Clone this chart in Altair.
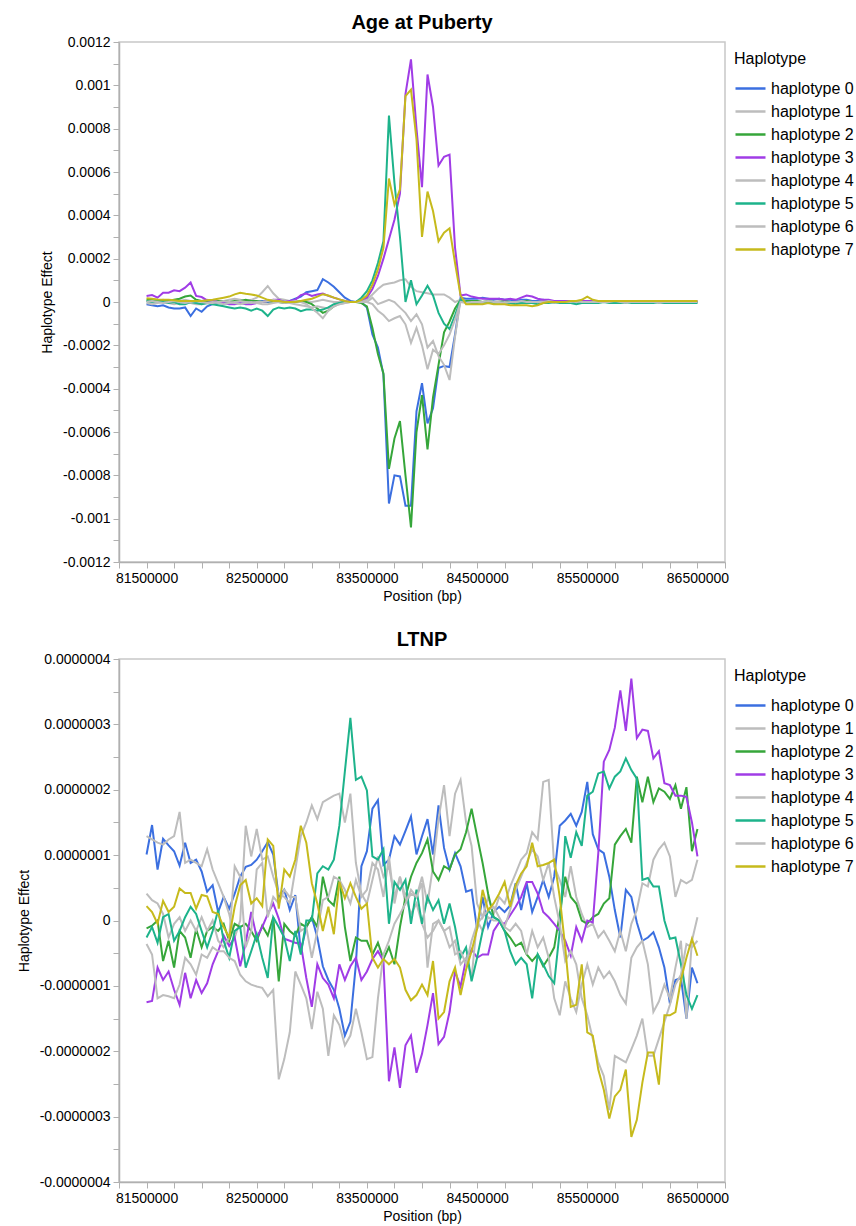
import altair as alt
import pandas as pd

# ---------------- data ----------------
positions = list(range(81500000, 86500001, 50000))  # 101 marker positions (bp)
haplotypes = ["haplotype 0", "haplotype 1", "haplotype 2", "haplotype 3",
              "haplotype 4", "haplotype 5", "haplotype 6", "haplotype 7"]
colors = ["#3b6fe0", "#bdbdbd", "#36a63a", "#a03ce6",
          "#bdbdbd", "#1db38b", "#bdbdbd", "#c6ba1c"]

# Age at Puberty, values in units of 1e-4
pub_h0 = [-0.1, -0.15, -0.2, -0.15, -0.25, -0.3, -0.3, -0.25, -0.65, -0.3,
          -0.45, -0.2, -0.1, -0.05, 0.0, -0.05, 0.0, 0.05, 0.0, -0.05,
          0.0, 0.05, 0.0, 0.05, 0.0, 0.05, 0.05, 0.15, 0.25, 0.45,
          0.5, 0.55, 1.05, 0.9, 0.7, 0.45, 0.2, 0.05, 0.0, 0.0,
          -0.25, -1.5, -2.1, -3.35, -9.3, -8.0, -8.05, -9.4, -9.4, -5.05,
          -3.75, -5.6, -4.9, -3.05, -2.95, -3.0, -1.5, 0.2, 0.15, 0.15,
          0.15, 0.2, 0.15, 0.1, 0.15, 0.1, 0.1, 0.05, 0.1, 0.1,
          0.05, 0.05, 0.1, 0.05, 0.0, 0.05, 0.0, 0.0, 0.05, 0.0,
          0.0, 0.05, 0.0, 0.0, 0.05, 0.0, 0.0, 0.0, 0.05, 0.0,
          0.0, 0.0, 0.05, 0.0, 0.0, 0.0, 0.05, 0.0, 0.0, 0.0, 0.0]
pub_h1 = [0.05, 0.0, 0.05, 0.1, 0.05, 0.0, 0.05, 0.1, 0.05, 0.0,
          0.05, 0.1, 0.05, 0.0, 0.05, 0.1, 0.15, 0.1, 0.05, 0.1,
          0.2, 0.45, 0.74, 0.4, 0.15, 0.1, 0.05, 0.05, 0.0, 0.05,
          0.0, 0.05, 0.1, 0.05, 0.0, 0.0, 0.0, 0.0, 0.0, 0.05,
          0.1, 0.35, 0.6, 0.8, 0.85, 0.9, 1.0, 1.05, 0.7, 0.5,
          0.45, 0.4, 0.35, 0.35, 0.35, 0.2, 0.0, 0.1, 0.05, 0.0,
          0.05, 0.0, -0.05, 0.0, 0.05, 0.0, 0.0, -0.05, 0.0, 0.05,
          0.0, 0.0, 0.05, 0.0, -0.05, 0.0, 0.0, 0.05, 0.0, 0.0,
          -0.05, 0.0, 0.0, 0.05, 0.0, 0.0, -0.05, 0.0, 0.0, 0.05,
          0.0, 0.0, 0.0, -0.05, 0.0, 0.0, 0.05, 0.0, 0.0, 0.0, 0.0]
pub_h2 = [0.1, 0.1, 0.08, 0.05, 0.05, 0.1, 0.15, 0.25, 0.3, 0.1,
          0.05, 0.05, 0.0, 0.05, 0.05, 0.0, 0.05, 0.05, 0.1, 0.05,
          0.05, 0.0, 0.05, 0.0, 0.0, -0.05, 0.0, 0.0, 0.05, 0.0,
          -0.1, -0.3, -0.5, -0.4, -0.2, -0.05, 0.0, 0.0, 0.0, -0.05,
          -0.2, -1.2, -2.4, -3.3, -7.7, -6.3, -5.5, -8.0, -10.4, -6.0,
          -4.3, -6.8, -4.4, -2.9, -1.4, -0.9, -0.3, 0.1, 0.05, 0.05,
          0.05, 0.0, 0.05, 0.0, 0.0, 0.05, 0.0, 0.0, 0.0, 0.05,
          0.0, 0.0, 0.0, 0.05, 0.0, 0.0, 0.0, 0.0, 0.0, 0.0,
          0.0, 0.0, 0.0, 0.0, 0.0, 0.0, 0.0, 0.0, 0.0, 0.0,
          0.0, 0.0, 0.0, 0.0, 0.0, 0.0, 0.0, 0.0, 0.0, 0.0, 0.0]
pub_h3 = [0.28, 0.32, 0.2, 0.43, 0.43, 0.54, 0.5, 0.66, 0.9, 0.28,
          0.23, 0.08, 0.05, 0.0, -0.05, -0.1, -0.1, -0.05, -0.1, -0.1,
          -0.05, 0.0, 0.05, 0.1, 0.1, 0.0, 0.05, 0.1, 0.32, 0.39,
          0.28, 0.35, 0.39, 0.28, 0.2, 0.12, 0.05, 0.0, 0.0, 0.1,
          0.2, 0.6, 1.2, 2.0, 2.9, 3.8, 5.0, 9.6, 11.2, 8.0,
          5.3, 10.5, 9.0, 6.3, 6.7, 6.8, 2.5, 0.3, 0.35, 0.25,
          0.2, 0.15, 0.15, 0.15, 0.15, 0.1, 0.15, 0.1, 0.2, 0.3,
          0.25, 0.15, 0.1, 0.1, 0.05, 0.05, 0.05, 0.05, 0.05, 0.05,
          0.05, 0.05, 0.05, 0.05, 0.05, 0.0, 0.05, 0.05, 0.05, 0.05,
          0.05, 0.05, 0.0, 0.05, 0.05, 0.05, 0.0, 0.05, 0.05, 0.05, 0.05]
pub_h4 = [-0.05, -0.1, -0.05, 0.0, -0.05, -0.1, -0.05, 0.0, -0.05, -0.1,
          -0.1, -0.05, 0.0, -0.05, -0.1, -0.05, 0.0, 0.05, 0.0, -0.05,
          0.0, 0.0, 0.05, 0.1, 0.05, 0.0, -0.05, -0.1, -0.15, -0.2,
          -0.25, -0.2, -0.25, -0.3, -0.2, -0.1, -0.05, 0.0, 0.0, 0.0,
          0.0, 0.2, -0.1, 0.0, 0.1, 0.0, -0.26, -0.5, -0.88, -0.57,
          -1.03, -2.1, -1.8, -2.5, -2.9, -3.6, -1.6, 0.1, 0.0, -0.05,
          0.0, -0.05, 0.0, 0.0, -0.05, 0.0, -0.05, 0.0, 0.0, -0.05,
          0.0, 0.0, -0.05, 0.0, 0.0, 0.0, -0.05, 0.0, 0.0, 0.0,
          0.0, -0.05, 0.0, 0.0, 0.0, 0.0, 0.0, -0.05, 0.0, 0.0,
          0.0, 0.0, 0.0, 0.0, -0.05, 0.0, 0.0, 0.0, 0.0, 0.0, -0.05]
pub_h5 = [0.05, 0.0, 0.05, 0.0, -0.05, 0.0, -0.1, -0.1, 0.0, -0.05,
          -0.1, -0.05, -0.1, -0.15, -0.2, -0.25, -0.3, -0.25, -0.3, -0.4,
          -0.3, -0.4, -0.65, -0.35, -0.25, -0.3, -0.25, -0.3, -0.42, -0.35,
          -0.35, -0.4, -0.35, -0.25, -0.1, -0.05, 0.0, 0.0, 0.0, 0.2,
          0.5, 1.0, 1.8, 2.8, 8.6, 5.5, 3.0, 0.0, 1.0, -0.1,
          0.3, 0.75, 0.3, -0.5, -1.0, -1.25, -0.6, 0.1, 0.0, -0.05,
          -0.05, 0.0, -0.05, -0.05, 0.0, -0.05, -0.05, -0.1, -0.05, -0.05,
          -0.05, -0.1, -0.05, -0.05, 0.0, -0.05, -0.05, -0.05, -0.1, -0.05,
          -0.05, -0.05, -0.05, 0.0, -0.05, -0.05, -0.05, 0.0, -0.05, -0.05,
          -0.05, -0.05, -0.05, 0.0, -0.05, -0.05, -0.05, -0.05, -0.05, -0.05, -0.05]
pub_h6 = [0.0, 0.05, 0.0, -0.05, 0.0, 0.05, 0.0, -0.05, 0.0, 0.05,
          0.0, -0.05, -0.05, 0.0, 0.05, 0.0, -0.05, -0.1, -0.05, 0.0,
          -0.05, -0.1, -0.1, -0.05, 0.0, -0.05, 0.0, 0.05, 0.0, -0.1,
          -0.3, -0.5, -0.75, -0.4, -0.2, -0.1, -0.05, 0.0, 0.0, 0.0,
          0.0, -0.1, -0.4, -0.6, -0.88, -0.75, -0.65, -1.03, -1.88, -1.19,
          -2.0, -3.1, -2.2, -2.4, -2.0, -1.5, -0.8, 0.0, -0.05, 0.0,
          0.0, 0.0, 0.05, 0.0, 0.0, -0.05, 0.0, 0.0, 0.05, 0.0,
          0.0, 0.0, 0.0, 0.05, 0.0, 0.0, 0.0, 0.0, 0.05, 0.0,
          0.0, 0.0, 0.0, 0.0, 0.0, 0.05, 0.0, 0.0, 0.0, 0.0,
          0.0, 0.0, 0.0, 0.0, 0.0, 0.0, 0.0, 0.0, 0.0, 0.0, 0.0]
pub_h7 = [0.17, 0.15, 0.12, 0.1, 0.1, 0.08, 0.05, 0.05, 0.05, 0.05,
          0.05, 0.08, 0.1, 0.15, 0.2, 0.25, 0.35, 0.43, 0.38, 0.35,
          0.3, 0.2, 0.1, 0.05, 0.05, 0.0, 0.0, 0.0, 0.05, 0.1,
          0.15, 0.25, 0.36, 0.3, 0.2, 0.12, 0.05, 0.0, 0.0, 0.1,
          0.3, 0.8, 1.5, 2.5, 5.7, 4.5, 5.2, 9.5, 9.8, 7.5,
          3.0, 5.1, 4.2, 2.8, 3.2, 3.4, 1.8, 0.3, -0.1, -0.1,
          -0.1, -0.1, -0.05, -0.1, -0.1, -0.1, -0.15, -0.15, -0.15, -0.15,
          -0.2, -0.15, -0.05, 0.0, 0.0, 0.0, 0.0, 0.05, 0.05, 0.1,
          0.25, 0.1, 0.05, 0.05, 0.05, 0.05, 0.05, 0.05, 0.05, 0.05,
          0.05, 0.05, 0.05, 0.05, 0.05, 0.05, 0.05, 0.05, 0.05, 0.05, 0.05]

# LTNP, values in units of 1e-8
ltnp_h0 = [10.1, 14.6, 7.8, 12.5, 11.5, 10.6, 8.4, 11.9, 8.8, 9.3,
           7.5, 4.4, 5.4, 1.3, 3.6, 1.8, 4.1, 6.7, 8.2, 8.5,
           9.3, 10.6, 12.0, 10.1, 3.6, 4.7, 1.6, 3.9, -4.7, -1.0,
           0.5, -2.6, -7.0, -9.1, -10.6, -13.5, -17.6, -15.5, -6.7, 8.3,
           10.6, 17.1, 18.4, 8.5, 9.3, 12.9, 11.6, 13.7, 15.9, 10.1,
           12.9, 15.5, 10.1, 17.6, 11.1, 7.8, 10.3, 8.3, 4.4, 4.7,
           -1.3, 3.6, -1.0, 1.3, 2.1, 1.3, 2.3, 5.7, 1.6, 5.7,
           1.3, 3.6, 6.2, 3.6, 6.7, 14.5, 15.3, 16.3, 14.5, 16.6,
           21.2, 13.2, 10.9, 10.3, 6.7, 1.6, -2.6, 4.7, 3.6, -0.3,
           -3.1, -2.6, -1.8, -4.1, -7.2, -12.7, -9.1, -8.8, -15.0, -7.2, -9.6]
ltnp_h1 = [12.9, 12.4, 11.9, 11.6, 12.4, 12.9, 16.6, 8.8, 9.3, 8.8,
           8.3, 10.9, 7.8, 5.7, 3.6, 1.0, -2.6, 0.0, 14.5, 9.8,
           14.0, 9.3, 9.8, 6.7, 4.1, 3.6, 2.6, 7.8, 12.9, 15.0,
           17.6, 15.5, 18.1, 18.6, 19.1, 19.4, 15.0, 19.4, 8.8, 4.1,
           2.6, 6.2, 9.8, 6.7, 8.3, 3.6, 6.7, 2.6, 4.1, 3.6,
           6.7, 2.6, 8.3, 15.5, 20.7, 12.9, 19.4, 21.5, 15.0, 11.4,
           2.6, 0.5, 3.6, 1.0, 3.6, 2.6, 5.2, 7.2, 9.3, 10.3,
           13.5, 12.4, 21.2, 21.5, 8.3, 6.2, 3.6, 8.3, 3.6, 1.0,
           -1.0, -0.5, -2.6, -1.6, -3.1, -4.7, -1.6, -4.7, -0.5, 1.6,
           5.7, 5.2, 9.3, 10.9, 11.9, 9.8, 3.6, 6.2, 5.7, 6.2, 9.3]
ltnp_h2 = [-1.2, -0.8, 0.0, -6.2, -3.1, -7.2, -1.6, -2.6, -5.7, -1.3,
           -4.1, -1.6, -1.0, -1.6, -0.5, -3.1, -0.5, -1.0, -0.5, -1.6,
           -3.1, -0.8, -2.3, 0.5, -9.3, -0.5, -1.6, -2.3, -0.5, -1.0,
           0.5, -1.0, 6.7, 3.1, 2.3, 6.7, -1.0, -6.2, -2.6, -3.1,
           -3.1, -5.2, -3.4, -5.9, -4.1, -6.7, -1.0, 3.6, 6.7, 8.8,
           10.3, 12.4, 7.5, 6.2, 8.3, 7.8, 10.1, 10.9, 13.5, 17.1,
           12.9, 8.8, 4.1, 0.5, 0.0, -1.6, -2.6, -3.9, -3.4, -5.2,
           -6.2, -5.2, -7.0, -5.7, -4.1, 1.0, 6.7, 3.6, 2.6, 0.0,
           -0.5, 0.5, 1.0, 2.6, 3.4, 11.6, 12.9, 14.0, 11.9, 22.0,
           18.1, 22.0, 18.1, 20.2, 19.7, 18.6, 20.7, 17.1, 20.4, 10.6, 14.0]
ltnp_h3 = [-12.5, -12.3, -7.2, -9.1, -7.8, -10.6, -12.9, -8.0, -11.9, -9.1,
           -11.1, -9.6, -6.7, -4.7, -2.3, -3.9, -2.6, -7.0, -3.4, 1.3,
           -2.6, -1.0, 1.0, 2.6, 0.3, -2.8, -3.1, -3.4, -3.6, -8.8,
           -13.2, -6.7, -8.8, -9.8, -11.9, -6.7, -9.1, -7.0, -5.7, -9.1,
           -7.8, -5.9, -4.7, -6.2, -24.6, -19.4, -25.6, -19.1, -17.6, -23.3,
           -20.4, -16.0, -11.1, -18.9, -17.8, -14.0, -7.8, -10.1, -5.9, -4.4,
           -5.7, -5.2, -5.2, -1.6, -0.3, -0.5, 0.8, 2.1, 3.6, 5.9,
           5.9, 4.1, 1.3, 0.5, -0.5, -1.6, -3.1, -5.4, -1.0, -3.1,
           0.0, -0.3, 10.3, 24.3, 26.1, 29.5, 35.2, 29.0, 37.0, 27.9,
           29.2, 29.0, 24.8, 25.9, 21.0, 20.7, 19.1, 19.1, 18.9, 15.0, 9.8]
ltnp_h4 = [4.1, 3.1, 2.6, 1.0, -2.6, -0.5, 0.5, -1.6, 0.0, -1.6,
           0.5, -1.6, 0.0, -3.1, -4.1, -2.6, 8.3, 6.7, -4.1, -1.6,
           7.8, 8.8, 0.5, 3.6, 2.6, 4.7, 3.6, 3.6, -1.6, -1.0,
           -5.7, -1.6, 3.1, 3.6, 6.7, 6.2, 4.7, 2.6, 6.2, 3.6,
           4.7, 8.8, 7.8, 3.6, 9.8, 2.6, 6.7, 3.6, 1.0, 2.6,
           -0.5, -2.6, -1.6, 0.0, -1.6, -4.1, -3.1, -6.7, -5.7, -8.8,
           0.0, -1.6, 0.5, 0.0, 0.0, -1.0, -1.6, -0.5, -1.6, -5.2,
           -1.6, -4.1, -2.6, -5.7, -11.9, -14.5, -9.3, -11.9, -14.0, -9.8,
           -6.7, -9.8, -7.2, -8.8, -7.8, -9.3, -11.4, -12.7, -5.7, -4.1,
           -3.1, -6.7, -14.0, -12.4, -9.8, -11.9, -7.2, -3.1, -15.0, -3.1, 0.5]
ltnp_h5 = [-2.6, -1.0, -3.4, 0.5, 1.0, -3.1, -1.6, 0.5, 2.1, 1.0,
           -1.6, -4.1, -1.6, 1.6, -3.1, -5.7, -1.6, -1.0, -7.2, -4.7,
           -2.1, -5.7, -8.8, 0.5, -1.0, -2.6, -6.2, -1.6, -5.2, 0.0,
           0.0, 7.2, 8.3, 7.8, 9.3, 14.5, 22.8, 31.0, 21.5, 22.0,
           19.9, 9.8, 9.3, 10.9, -0.5, 5.9, 4.7, 6.2, -0.5, 4.7,
           -0.5, 3.6, 1.6, 3.1, -0.5, 2.6, -1.0, -5.7, -4.1, -9.3,
           -5.7, -1.6, 1.6, 0.5, 0.0, -1.6, -4.7, -6.7, -5.7, -6.7,
           -11.9, -5.2, -6.7, -8.5, -9.6, -1.6, 12.9, 9.6, 13.5, 11.4,
           19.1, 19.7, 22.5, 22.8, 20.2, 22.0, 22.8, 24.8, 23.0, 21.7,
           6.2, 6.5, 5.2, 5.2, 0.0, -2.8, -2.6, -6.7, -11.4, -13.5, -11.4]
ltnp_h6 = [-3.6, -5.2, -11.9, -11.4, -11.6, -11.9, -9.8, -5.7, -6.7, -8.3,
           -5.2, -5.7, -4.1, -4.7, -4.7, -5.7, -6.2, -8.3, -9.3, -9.8,
           -10.1, -10.3, -11.6, -10.6, -24.3, -21.2, -17.1, -7.8, -9.8, -11.9,
           -16.6, -10.9, -13.5, -20.7, -14.5, -16.0, -19.1, -17.6, -13.5, -17.1,
           -21.2, -20.9, -11.9, -5.2, -3.1, -0.5, 1.0, 2.6, 4.7, 3.6,
           5.7, -7.2, -0.5, 0.0, -1.6, -1.0, -5.2, -4.7, -6.7, -3.1,
           -0.5, 0.5, 1.6, 2.1, 0.5, -1.0, 1.6, 4.7, 6.7, 8.8,
           10.9, 9.8, 6.2, 8.8, 3.6, -0.5, -6.2, -4.7, -6.7, -11.9,
           -14.5, -18.1, -21.7, -23.8, -29.0, -20.7, -21.2, -21.7, -19.7, -17.6,
           -15.0, -20.7, -20.7, -18.1, -15.5, -12.9, -9.8, -8.3, -3.6, -4.1, -3.1]
ltnp_h7 = [2.2, 1.3, -0.5, 3.0, 1.3, 2.1, 4.9, 4.2, 4.2, 1.8,
           3.9, 3.7, 1.3, 1.0, -1.0, -2.6, 2.1, 5.4, 6.2, 2.6,
           3.4, 2.2, 12.4, 11.4, 1.8, 7.8, 6.7, 9.3, 14.5, 11.9,
           5.7, 2.6, -1.6, 2.1, -2.1, 5.9, 3.4, 5.7, 3.6, 1.8,
           2.6, -5.7, -7.2, -5.9, -6.7, -5.9, -7.2, -10.6, -12.2, -11.4,
           -9.8, -11.4, -6.2, -15.0, -14.0, -9.3, -7.2, -11.4, -7.5, -4.7,
           -1.3, 4.7, 1.6, 2.6, 4.1, 5.9, 2.1, 5.4, 7.2, 8.3,
           11.9, 8.3, 8.5, 8.8, 9.3, 3.6, -4.1, -13.2, -12.9, -6.7,
           -17.1, -17.6, -22.8, -25.9, -30.3, -26.9, -25.9, -22.8, -33.1, -30.5,
           -24.8, -20.2, -20.2, -25.1, -14.5, -14.5, -14.0, -9.1, -5.7, -2.8, -5.4]

pub_series = [pub_h0, pub_h1, pub_h2, pub_h3, pub_h4, pub_h5, pub_h6, pub_h7]
ltnp_series = [ltnp_h0, ltnp_h1, ltnp_h2, ltnp_h3, ltnp_h4, ltnp_h5, ltnp_h6, ltnp_h7]

x_ticks = list(range(81250000, 86750001, 250000))
pub_ticks = [round(k * 1e-4, 6) for k in range(-12, 13)]
ltnp_ticks = [round(k * 5e-8, 10) for k in range(-8, 9)]


def to_frame(series, unit):
    rows = []
    for name, vals in zip(haplotypes, series):
        for p, v in zip(positions, vals):
            rows.append({"pos": p, "val": v * unit, "hap": name})
    return pd.DataFrame(rows)


FONT = "Liberation Sans"
x_label = ("(datum.value - 81500000) % 1000000 == 0 ? format(datum.value, 'd') : ''")


def y_label(mult, fmt):
    return ("abs(round(datum.value * %s)) %% 2 == 1 ? '' : "
            "(abs(datum.value) < 1e-12 ? '0' : (datum.value < 0 ? '-' : '') + "
            "format(abs(datum.value), '%s'))" % (mult, fmt))


def panel(df, title, ydom, yticks, ylab, height):
    return alt.Chart(df).mark_line(strokeWidth=2, clip=True).encode(
        x=alt.X("pos:Q",
                scale=alt.Scale(domain=[81250000, 86750000], nice=False, zero=False),
                axis=alt.Axis(values=x_ticks, labelExpr=x_label, title="Position (bp)",
                              titlePadding=4)),
        y=alt.Y("val:Q",
                scale=alt.Scale(domain=ydom, nice=False, zero=False),
                axis=alt.Axis(values=yticks, labelExpr=ylab, title="Haplotype Effect",
                              titlePadding=8)),
        color=alt.Color("hap:N",
                        scale=alt.Scale(domain=haplotypes, range=colors),
                        legend=alt.Legend(title="Haplotype", orient="none",
                                          legendX=615, legendY=9)),
    ).properties(
        width=606, height=height,
        title=alt.TitleParams(title, fontSize=20, fontWeight="bold", font=FONT,
                              offset=2, color="black"),
    )


top = panel(to_frame(pub_series, 1e-4), "Age at Puberty", [-0.0012, 0.0012],
            pub_ticks, y_label("10000", ".4~f"), 520)
bottom = panel(to_frame(ltnp_series, 1e-8), "LTNP", [-0.0000004, 0.0000004],
               ltnp_ticks, y_label("20000000", ".7~f"), 523)

chart = alt.vconcat(top, bottom, spacing=25).resolve_scale(
    color="independent"
).properties(
    padding={"left": 16, "top": 12, "right": 0, "bottom": 0}
).configure_view(
    stroke="#c8c8c8", strokeWidth=1.5
).configure_axis(
    domainColor="#b0b0b0", domainWidth=1.5, tickColor="#b0b0b0", tickSize=6,
    grid=False, labelFont=FONT, labelFontSize=14, labelColor="black",
    titleFont=FONT, titleFontSize=14, titleFontWeight="normal", titleColor="black",
    labelPadding=3,
).configure_legend(
    padding=0,
    titleFont=FONT, titleFontSize=16, titleFontWeight="normal", titleColor="black",
    titlePadding=12, labelFont=FONT, labelFontSize=16, labelColor="black",
    symbolType="stroke", symbolStrokeWidth=2.5, symbolSize=900,
    clipHeight=19, rowPadding=4, labelOffset=4,
)

chart.save("out.html", embed_options={"renderer": "svg", "actions": False})
